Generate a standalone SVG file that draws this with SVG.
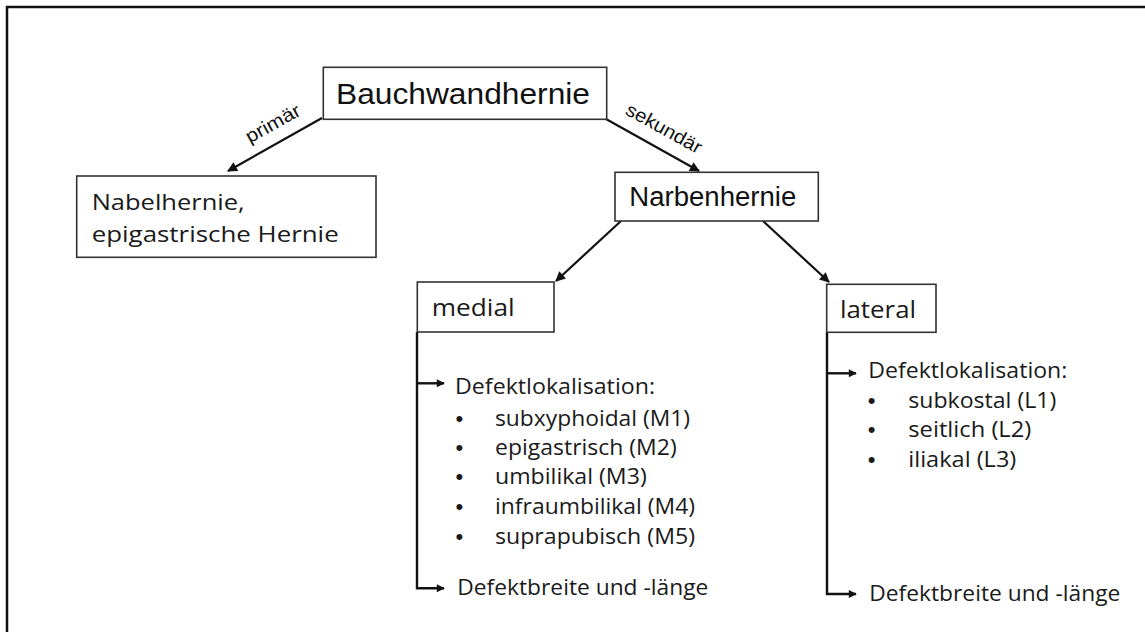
<svg xmlns="http://www.w3.org/2000/svg" width="1145" height="632" viewBox="0 0 1145 632">
<defs>
<style>
.box{fill:#fff;stroke:#333;stroke-width:1.6}
.ar{fill:#111;font-family:"Liberation Sans",Arial,sans-serif}
.ap{fill:#1a1a1a;font-family:"Open Sans","Noto Sans",sans-serif}
.bu{fill:#1a1a1a;font-family:"Liberation Sans",Arial,sans-serif;font-size:22px}
.con{stroke:#111;stroke-width:2.2;fill:none}
.tr{stroke:#111;stroke-width:2.4;fill:none}
</style>
<marker id="ah" viewBox="0 0 10 10" refX="9" refY="5" markerWidth="13" markerHeight="10" orient="auto" markerUnits="userSpaceOnUse"><path d="M0,0 L10,5 L0,10 z" fill="#111"/></marker>
<marker id="as" viewBox="0 0 10 10" refX="9" refY="5" markerWidth="10" markerHeight="8" orient="auto" markerUnits="userSpaceOnUse"><path d="M0,0 L10,5 L0,10 z" fill="#111"/></marker>
</defs>
<rect width="1145" height="632" fill="#fff"/>
<rect x="7" y="7" width="1250" height="700" fill="none" stroke="#111" stroke-width="2.5"/>

<g id="connectors">
<line class="con" x1="322" y1="118" x2="228" y2="171" marker-end="url(#ah)"/>
<line class="con" x1="606" y1="119" x2="699" y2="171" marker-end="url(#ah)"/>
<line class="con" x1="621" y1="221" x2="556" y2="281" marker-end="url(#ah)"/>
<line class="con" x1="763" y1="221" x2="829" y2="282" marker-end="url(#ah)"/>
<polyline class="tr" points="417,332 417,588.3 444,588.3" marker-end="url(#as)"/>
<line class="tr" x1="417" y1="383.3" x2="444" y2="383.3" marker-end="url(#as)"/>
<polyline class="tr" points="827,332 827,594 856,594" marker-end="url(#as)"/>
<line class="tr" x1="827" y1="373.3" x2="856" y2="373.3" marker-end="url(#as)"/>
<text class="ar" x="276" y="129" font-size="19" text-anchor="middle" textLength="60" lengthAdjust="spacingAndGlyphs" transform="rotate(-29 276 129)">primär</text>
<text class="ar" x="661" y="134" font-size="19" text-anchor="middle" textLength="84" lengthAdjust="spacingAndGlyphs" transform="rotate(29 661 134)">sekundär</text>
</g>

<g id="bauchwandhernie">
<rect class="box" x="323.3" y="67.3" width="283.4" height="52"/>
<text class="ar" x="336" y="104" font-size="30" textLength="254" lengthAdjust="spacingAndGlyphs">Bauchwandhernie</text>
</g>

<g id="nabelhernie">
<rect class="box" x="76.7" y="176" width="299.3" height="81.3"/>
<text class="ap" x="91.7" y="209.5" font-size="22.5" textLength="153" lengthAdjust="spacingAndGlyphs">Nabelhernie,</text>
<text class="ap" x="91.7" y="242" font-size="22.5" textLength="247" lengthAdjust="spacingAndGlyphs">epigastrische Hernie</text>
</g>

<g id="narbenhernie">
<rect class="box" x="615" y="172.3" width="203.3" height="48.7"/>
<text class="ar" x="629.3" y="205.5" font-size="27" textLength="167" lengthAdjust="spacingAndGlyphs">Narbenhernie</text>
</g>

<g id="medial">
<rect class="box" x="417.3" y="282" width="136.7" height="50"/>
<text class="ap" x="431.7" y="315.5" font-size="23" textLength="83" lengthAdjust="spacingAndGlyphs">medial</text>
</g>

<g id="lateral">
<rect class="box" x="826.7" y="284.3" width="109.3" height="48"/>
<text class="ap" x="840" y="317.5" font-size="23" textLength="76" lengthAdjust="spacingAndGlyphs">lateral</text>
</g>

<g id="medial-details">
<text class="ap" x="455" y="394.3" font-size="21.5" textLength="200" lengthAdjust="spacingAndGlyphs">Defektlokalisation:</text>
<g class="ap" font-size="21.5">
<text class="bu" x="459.3" y="425.7" text-anchor="middle">•</text>
<text x="495" y="425.7" textLength="195" lengthAdjust="spacingAndGlyphs">subxyphoidal (M1)</text>
<text class="bu" x="459.3" y="455" text-anchor="middle">•</text>
<text x="495" y="455" textLength="181.7" lengthAdjust="spacingAndGlyphs">epigastrisch (M2)</text>
<text class="bu" x="459.3" y="484.3" text-anchor="middle">•</text>
<text x="495" y="484.3" textLength="151.7" lengthAdjust="spacingAndGlyphs">umbilikal (M3)</text>
<text class="bu" x="459.3" y="514.3" text-anchor="middle">•</text>
<text x="495" y="514.3" textLength="200" lengthAdjust="spacingAndGlyphs">infraumbilikal (M4)</text>
<text class="bu" x="459.3" y="544.3" text-anchor="middle">•</text>
<text x="495" y="544.3" textLength="200" lengthAdjust="spacingAndGlyphs">suprapubisch (M5)</text>
</g>
<text class="ap" x="457.3" y="594.5" font-size="21.5" textLength="251" lengthAdjust="spacingAndGlyphs">Defektbreite und -länge</text>
</g>

<g id="lateral-details">
<text class="ap" x="868.3" y="377.8" font-size="21.5" textLength="199" lengthAdjust="spacingAndGlyphs">Defektlokalisation:</text>
<g class="ap" font-size="21.5">
<text class="bu" x="871.7" y="408.3" text-anchor="middle">•</text>
<text x="908.3" y="408.3" textLength="148" lengthAdjust="spacingAndGlyphs">subkostal (L1)</text>
<text class="bu" x="871.7" y="437.3" text-anchor="middle">•</text>
<text x="908.3" y="437.3" textLength="123" lengthAdjust="spacingAndGlyphs">seitlich (L2)</text>
<text class="bu" x="871.7" y="466.7" text-anchor="middle">•</text>
<text x="908.3" y="466.7" textLength="108" lengthAdjust="spacingAndGlyphs">iliakal (L3)</text>
</g>
<text class="ap" x="869.3" y="600.5" font-size="21.5" textLength="251" lengthAdjust="spacingAndGlyphs">Defektbreite und -länge</text>
</g>
</svg>
